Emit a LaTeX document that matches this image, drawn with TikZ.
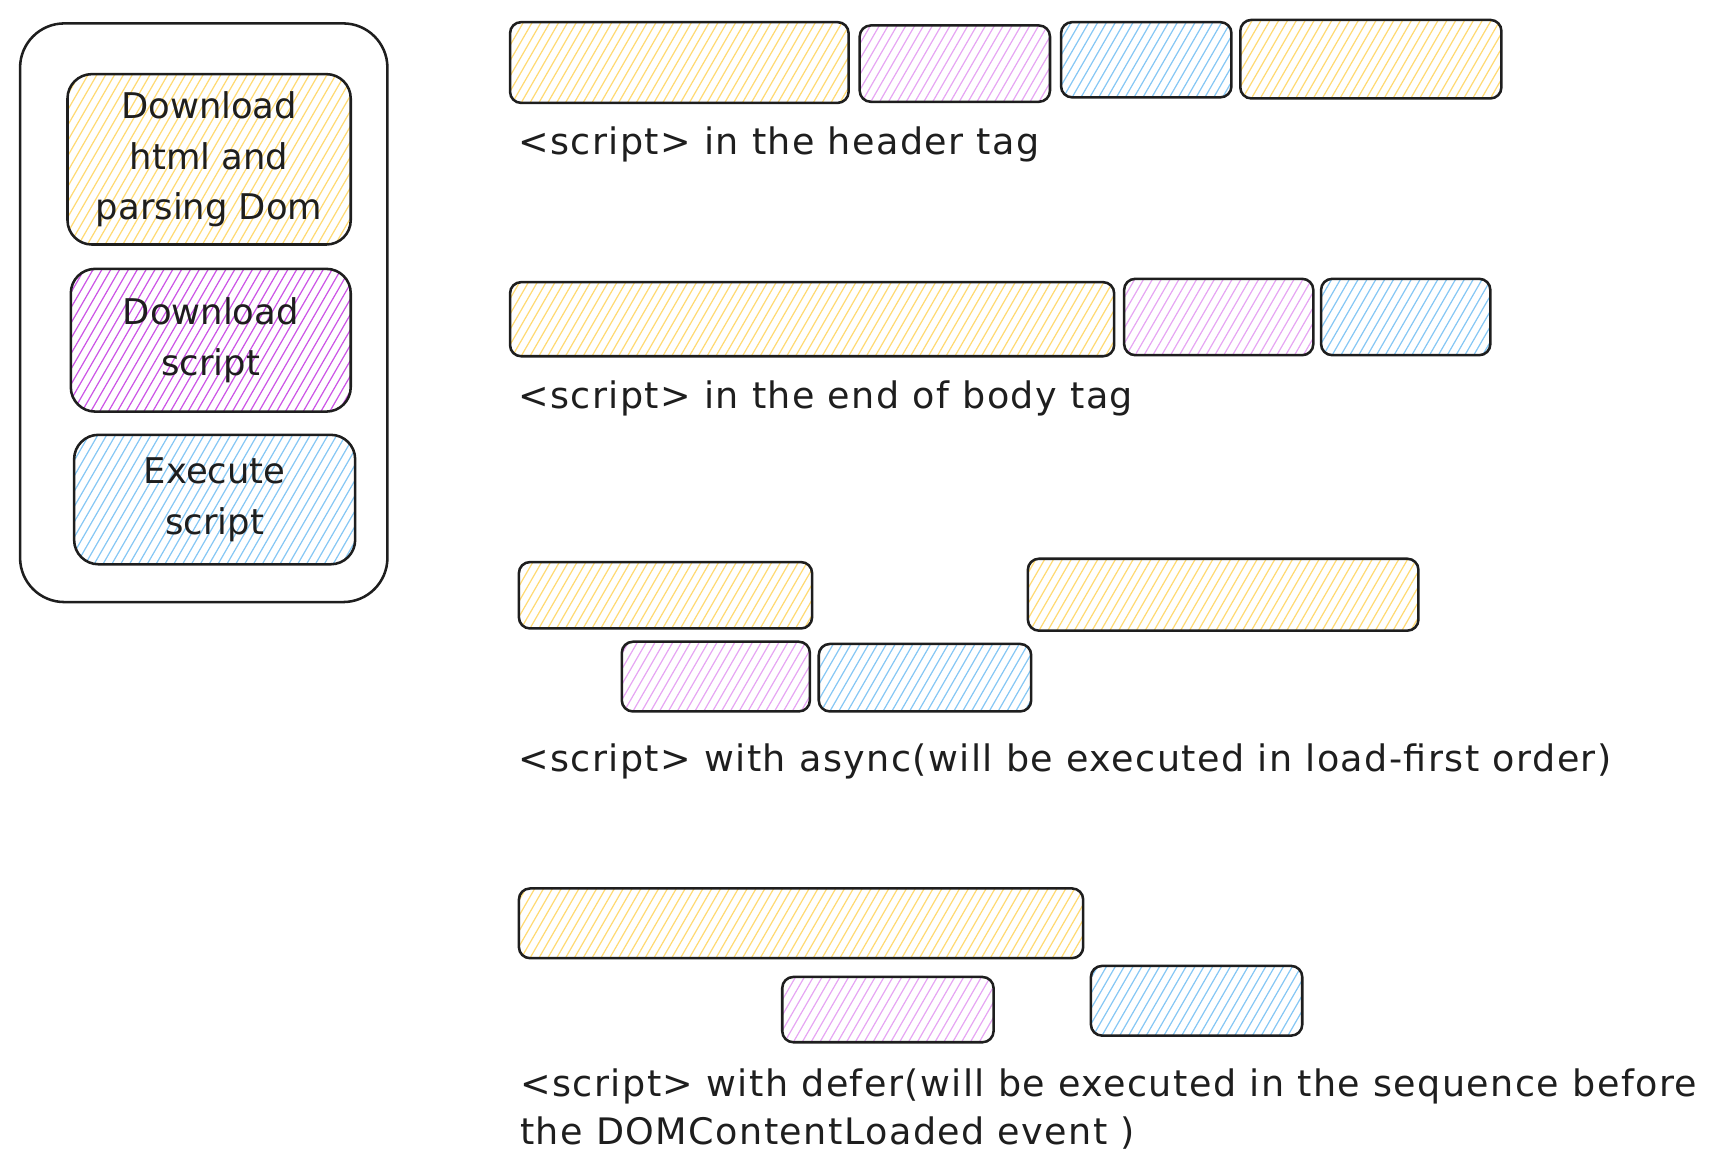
\documentclass[tikz,border=0pt]{standalone}
\usepackage{fontspec}
\setmainfont{DejaVu Sans}
\usetikzlibrary{calc}
\definecolor{ink}{HTML}{1E1E1E}
\definecolor{ylw}{HTML}{FFDA73}
\definecolor{prp}{HTML}{E6A6F3}
\definecolor{prpdark}{HTML}{CC55E6}
\definecolor{blu}{HTML}{86C7F4}
\tikzset{
  hatch/.style={path picture={\foreach \i in {0,...,90}{\draw[#1,line width=1.1pt] ($(path picture bounding box.south west)+({-110+\i*8},0)$) -- ++(60:420pt);}}},
  bar/.style={draw=ink, line width=2.3pt, rounded corners=10pt, inner sep=0pt, outer sep=0pt, anchor=north west},
  legbox/.style={draw=ink, line width=2.3pt, rounded corners=22pt, inner sep=0pt, outer sep=0pt, anchor=north west, align=center, text=ink, font=\fontsize{32}{46}\selectfont},
  lbl/.style={anchor=base west, inner sep=0pt, text=ink, font=\fontsize{33}{43}\selectfont\addfontfeature{LetterSpace=4}},
}
\begin{document}
\begin{tikzpicture}[x=1pt,y=1pt]
\useasboundingbox (0,0) rectangle (1560,-1060);
% legend
\node[draw=ink, line width=2.3pt, rounded corners=40pt, minimum width=332pt, minimum height=523pt, anchor=north west, inner sep=0pt] (legend) at (17,-20) {};
\node[legbox, hatch=ylw, minimum width=256pt, minimum height=154pt] (lyel) at (61,-67) {Download\\html and\\parsing Dom};
\node[legbox, hatch=prpdark, minimum width=253pt, minimum height=129pt] (lprp) at (64,-243) {Download\\script};
\node[legbox, hatch=blu, minimum width=254pt, minimum height=117pt] (lblu) at (67,-393) {Execute\\script};
% row 1
\node[bar, hatch=ylw, minimum width=306pt, minimum height=73pt] (a1) at (461,-20) {};
\node[bar, hatch=prp, minimum width=172pt, minimum height=69pt] (a2) at (777,-23) {};
\node[bar, hatch=blu, minimum width=154pt, minimum height=68pt] (a3) at (959,-20) {};
\node[bar, hatch=ylw, minimum width=236pt, minimum height=71pt] (a4) at (1121,-18) {};
\node[lbl] (la) at (468,-140) {<script> in the header tag};
% row 2
\node[bar, hatch=ylw, minimum width=546pt, minimum height=67pt] (b1) at (461,-255) {};
\node[bar, hatch=prp, minimum width=171pt, minimum height=69pt] (b2) at (1016,-252) {};
\node[bar, hatch=blu, minimum width=153pt, minimum height=69pt] (b3) at (1194,-252) {};
\node[lbl] (lb) at (468,-369) {<script> in the end of body tag};
% row 3
\node[bar, hatch=ylw, minimum width=265pt, minimum height=60pt] (c1) at (469,-508) {};
\node[bar, hatch=ylw, minimum width=353pt, minimum height=65pt] (c2) at (929,-505) {};
\node[bar, hatch=prp, minimum width=170pt, minimum height=63pt] (c3) at (562,-580) {};
\node[bar, hatch=blu, minimum width=192pt, minimum height=61pt] (c4) at (740,-582) {};
\node[lbl] (lc) at (468,-697) {<script> with async(will be executed in load-first order)};
% row 4
\node[bar, hatch=ylw, minimum width=510pt, minimum height=63pt] (d1) at (469,-803) {};
\node[bar, hatch=prp, minimum width=191pt, minimum height=59pt] (d2) at (707,-883) {};
\node[bar, hatch=blu, minimum width=191pt, minimum height=63pt] (d3) at (986,-873) {};
\node[lbl] (ld1) at (470,-991) {<script> with defer(will be executed in the sequence before};
\node[lbl] (ld2) at (470,-1034) {the DOMContentLoaded event )};
\end{tikzpicture}
\end{document}
